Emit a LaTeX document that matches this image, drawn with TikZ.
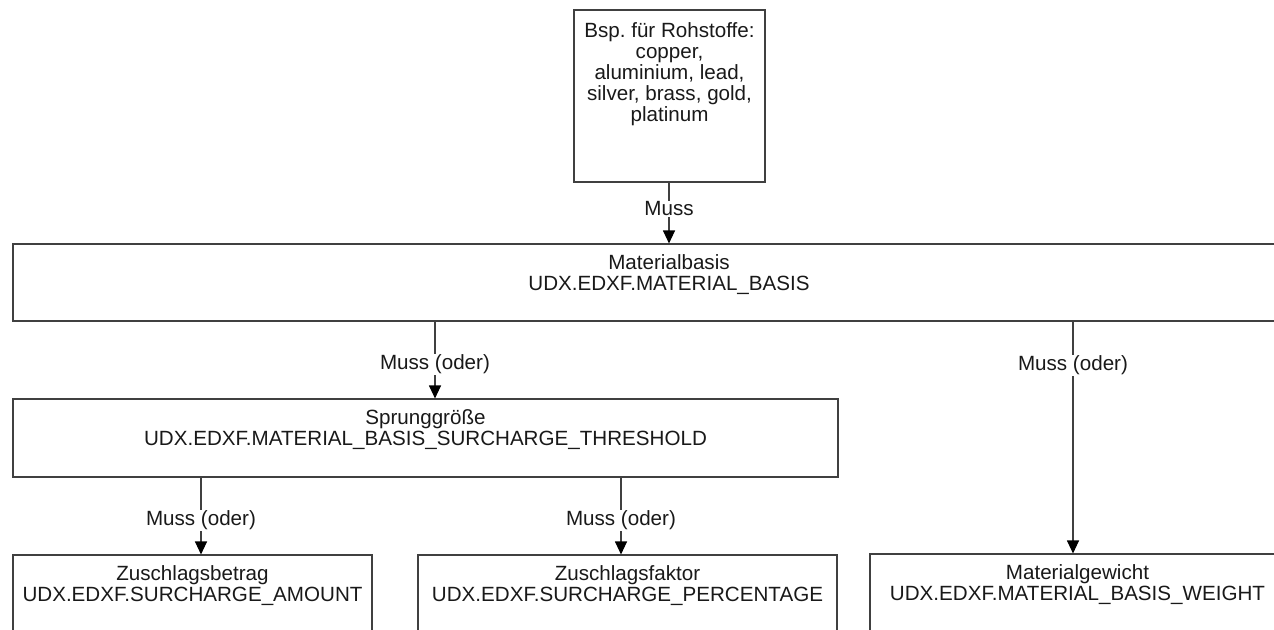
\documentclass[tikz,border=0pt]{standalone}
\usepackage{fontspec}
\setmainfont{Liberation Sans}
\usetikzlibrary{arrows.meta,calc}
\frenchspacing
\begin{document}
\begin{tikzpicture}[x=1pt,y=-1pt,
  box/.style 2 args={draw=black!75, line width=1.1pt, inner sep=0pt, minimum width=#1pt, minimum height=#2pt},
  txt/.style={anchor=north, align=center, inner sep=0pt, text=black!90, font=\fontsize{20.6}{21}\selectfont},
  lbl/.style={fill=white, inner sep=0.6pt, text=black!90, font=\fontsize{20.6}{21}\selectfont},
  conn/.style={draw=black!75, line width=1.1pt, -{Triangle[width=12pt,length=13pt,color=black]}}
]
\useasboundingbox (0,0) rectangle (1274,629);
\clip (0,0) rectangle (1274,629);
% boxes
\node[box={191}{172}] (src) at (669.5,96) {};
\node[box={1312}{77}] (mb) at (669,282.5) {};
\node[box={825}{78}] (sp) at (425.5,438) {};
\node[box={359}{95}] (zb) at (192.5,602.5) {};
\node[box={419}{95}] (zf) at (627.5,602.5) {};
\node[box={415}{96}] (mg) at (1077.5,602) {};
% texts
\node[txt] (srct) at ($(src.north)+(0,13)$) {Bsp. für Rohstoffe:\\copper,\\aluminium, lead,\\silver, brass, gold,\\platinum};
\node[txt] (mbt) at ($(mb.north)+(0,11)$) {Materialbasis\\UDX.EDXF.MATERIAL\_BASIS};
\node[txt] (spt) at ($(sp.north)+(0,11)$) {Sprunggröße\\UDX.EDXF.MATERIAL\_BASIS\_SURCHARGE\_THRESHOLD};
\node[txt] (zbt) at ($(zb.north)+(0,11)$) {Zuschlagsbetrag\\UDX.EDXF.SURCHARGE\_AMOUNT};
\node[txt] (zft) at ($(zf.north)+(0,11)$) {Zuschlagsfaktor\\UDX.EDXF.SURCHARGE\_PERCENTAGE};
\node[txt] (mgt) at ($(mg.north)+(0,11)$) {Materialgewicht\\UDX.EDXF.MATERIAL\_BASIS\_WEIGHT};
% connector x positions
\coordinate (x0) at (669,0);
\coordinate (x1) at (435,0);
\coordinate (x2) at (201,0);
\coordinate (x3) at (621,0);
\coordinate (x4) at (1073,0);
% connectors
\draw[conn] (x0 |- src.south) -- node[lbl, pos=0.43] (l0) {Muss} (x0 |- mb.north);
\draw[conn] (x1 |- mb.south) -- node[lbl, pos=0.56] (l1) {Muss (oder)} (x1 |- sp.north);
\draw[conn] (x2 |- sp.south) -- node[lbl, pos=0.56] (l2) {Muss (oder)} (x2 |- zb.north);
\draw[conn] (x3 |- sp.south) -- node[lbl, pos=0.56] (l3) {Muss (oder)} (x3 |- zf.north);
\draw[conn] (x4 |- mb.south) -- node[lbl, pos=0.19] (l4) {Muss (oder)} (x4 |- mg.north);
\end{tikzpicture}
\end{document}
